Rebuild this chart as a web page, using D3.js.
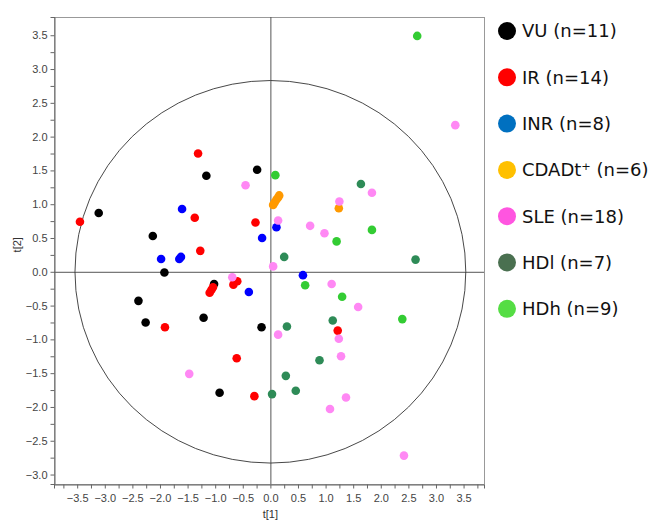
<!DOCTYPE html>
<html>
<head>
<meta charset="utf-8">
<script src="https://cdnjs.cloudflare.com/ajax/libs/d3/7.8.5/d3.min.js"></script>
<style>
  body { margin: 0; background: #fff; }
  svg { display: block; }
  .axis text { font-family: "Liberation Sans", Arial, sans-serif; font-size: 11px; fill: #444; }
  .axis path, .axis line { stroke: #666; }
  .legend text { font-family: "DejaVu Sans", Verdana, sans-serif; font-size: 18px; fill: #111; }
</style>
</head>
<body>
<svg id="chart" width="649" height="523"></svg>
<script>
'use strict';

// group names, counts and colours (legend uses slightly different tones)
var groups = ['VU', 'IR', 'INR', 'CDADt\u207A', 'SLE', 'HDl', 'HDh'];
var counts = [11, 14, 8, 6, 18, 7, 9];
var pointColors = ['#000000', '#ff0000', '#0000ff', '#ff9900', '#ff88f4', '#2e8b57', '#33cc33'];
var legendColors = ['#000000', '#ff0000', '#0070c0', '#ffc000', '#ff55e0', '#4a7050', '#55dd44'];

// score values [t1, t2] per group
var vu = [[-3.11, 0.87], [-2.13, 0.53], [-1.92, -0.01], [-2.39, -0.43], [-2.26, -0.75],
  [-1.16, 1.42], [-0.24, 1.51], [-1.21, -0.68], [-1.02, -0.18], [-0.16, -0.82], [-0.92, -1.79]];
var ir = [[-3.45, 0.74], [-1.31, 1.75], [-1.37, 0.80], [-0.27, 0.73], [-1.27, 0.31],
  [-1.91, -0.82], [-1.10, -0.31], [-1.07, -0.27], [-1.04, -0.23], [-0.67, -0.19],
  [-0.60, -0.14], [-0.61, -1.28], [-0.29, -1.84], [1.22, -0.87]];
var inr = [[-1.60, 0.93], [-0.15, 0.50], [-1.98, 0.19], [-1.65, 0.19], [-1.62, 0.22],
  [0.11, 0.66], [-0.39, -0.30], [0.59, -0.05]];
var cdad = [[0.05, 0.99], [0.08, 1.03], [0.11, 1.07], [0.14, 1.10], [0.16, 1.13], [1.24, 0.94]];
var sle = [[3.35, 2.17], [1.84, 1.17], [1.25, 1.04], [0.14, 0.76], [0.72, 0.68], [0.98, 0.57],
  [-0.45, 1.28], [-0.69, -0.08], [0.05, 0.08], [1.11, -0.18], [1.59, -0.52], [0.14, -0.93],
  [1.24, -0.99], [1.28, -1.25], [1.37, -1.86], [1.08, -2.03], [2.42, -2.72], [-1.47, -1.51]];
var hdl = [[1.64, 1.30], [0.25, 0.22], [2.63, 0.18], [0.30, -0.81], [1.13, -0.72],
  [0.89, -1.31], [0.28, -1.54], [0.46, -1.76], [0.03, -1.81]];
var hdh = [[2.66, 3.49], [0.09, 1.43], [1.84, 0.62], [1.20, 0.45], [0.63, -0.20],
  [1.30, -0.37], [2.39, -0.70]];
var series = [vu, ir, inr, cdad, sle, hdl, hdh];

// Hotelling ellipse semi-axes, axis ticks
var ellipseRadii = [3.54, 2.83];
var xTicks = d3.range(-15, 16).map(function(i) { return i * 0.25; });
var yTicks = d3.range(-12, 15).map(function(i) { return i * 0.25; });

var svg = d3.select('#chart');

var plot = { left: 54, right: 484, top: 17, bottom: 484 };

var x = d3.scaleLinear().domain([-3.92, 3.87]).range([plot.left, plot.right]);
var y = d3.scaleLinear().domain([-3.14, 3.77]).range([plot.bottom, plot.top]);

/**
 * Label only the half-unit ticks.
 */
function tickLabel(d) {
  var half = Math.round(d * 2) / 2;
  return Math.abs(half - d) < 1e-6 ? d3.format('.1f')(d) : '';
}

// frame
svg.append('rect')
  .attr('x', plot.left + 0.5)
  .attr('y', plot.top + 0.5)
  .attr('width', plot.right - plot.left)
  .attr('height', plot.bottom - plot.top)
  .attr('fill', 'none')
  .attr('stroke', '#999');

// zero lines
svg.append('line')
  .attr('x1', x(0) + 0.5).attr('x2', x(0) + 0.5)
  .attr('y1', plot.top).attr('y2', plot.bottom)
  .attr('stroke', '#555');
svg.append('line')
  .attr('x1', plot.left).attr('x2', plot.right)
  .attr('y1', y(0) + 0.5).attr('y2', y(0) + 0.5)
  .attr('stroke', '#555');

// ellipse
svg.append('ellipse')
  .attr('cx', x(0))
  .attr('cy', y(0))
  .attr('rx', x(ellipseRadii[0]) - x(0))
  .attr('ry', y(0) - y(ellipseRadii[1]))
  .attr('fill', 'none')
  .attr('stroke', '#333')
  .attr('stroke-width', 0.9);

// axes
svg.append('g')
  .attr('class', 'axis')
  .attr('transform', 'translate(0,' + (plot.bottom + 0.5) + ')')
  .call(d3.axisBottom(x).tickValues(xTicks).tickFormat(tickLabel).tickSize(4).tickPadding(6))
  .call(function(g) { g.select('.domain').attr('stroke', '#666'); });

svg.append('g')
  .attr('class', 'axis')
  .attr('transform', 'translate(' + (plot.left + 0.5) + ',0)')
  .call(d3.axisLeft(y).tickValues(yTicks).tickFormat(tickLabel).tickSize(4).tickPadding(3));

svg.append('text')
  .attr('x', x(0))
  .attr('y', 518)
  .attr('text-anchor', 'middle')
  .style('font', '11px "Liberation Sans", Arial, sans-serif')
  .style('fill', '#333')
  .text('t[1]');

svg.append('text')
  .attr('transform', 'translate(21,' + y(0.4) + ') rotate(-90)')
  .attr('text-anchor', 'middle')
  .style('font', '11px "Liberation Sans", Arial, sans-serif')
  .style('fill', '#333')
  .text('t[2]');

// points
series.forEach(function(points, i) {
  svg.append('g')
    .selectAll('circle')
    .data(points)
    .enter()
    .append('circle')
    .attr('cx', function(d) { return x(d[0]); })
    .attr('cy', function(d) { return y(d[1]); })
    .attr('r', 4.3)
    .attr('fill', pointColors[i]);
});

// legend
var legend = svg.append('g').attr('class', 'legend');
var rows = legend.selectAll('g')
  .data(groups)
  .enter()
  .append('g')
  .attr('transform', function(d, i) { return 'translate(507,' + (31 + i * 46.3) + ')'; });

rows.append('circle')
  .attr('r', 9)
  .attr('fill', function(d, i) { return legendColors[i]; });

rows.append('text')
  .attr('x', 15)
  .attr('dy', '0.36em')
  .text(function(d, i) { return d + ' (n=' + counts[i] + ')'; });
</script>
</body>
</html>
